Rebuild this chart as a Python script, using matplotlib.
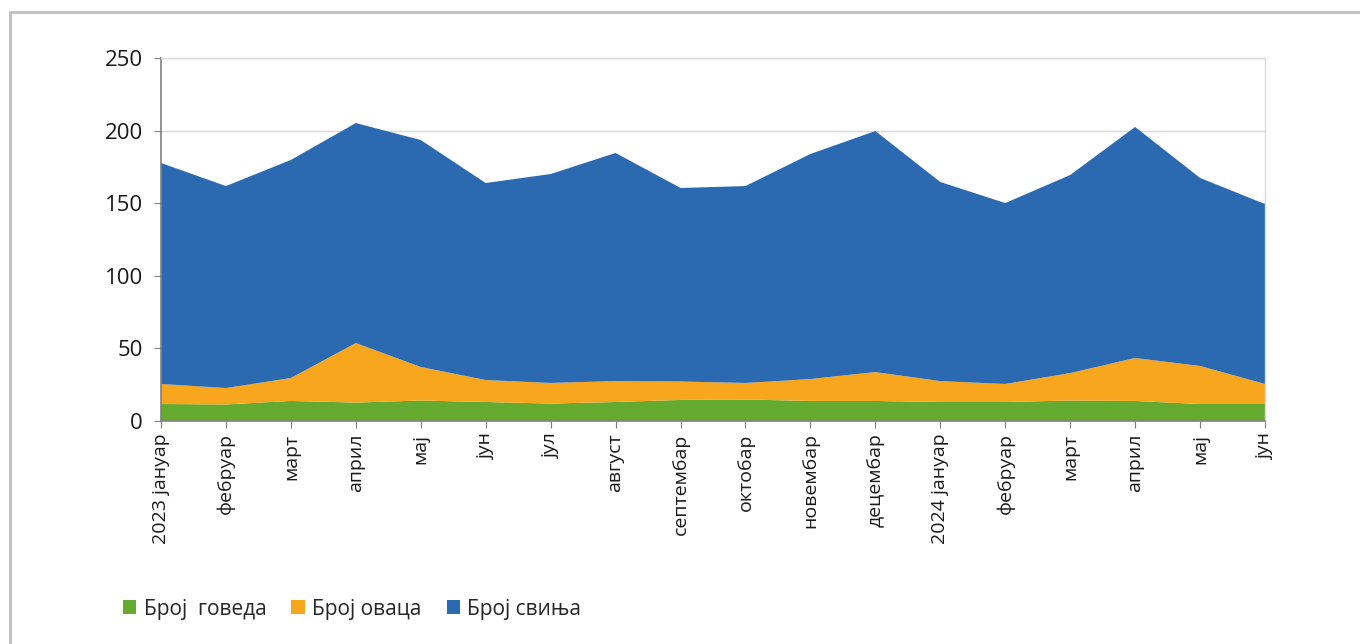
import matplotlib
matplotlib.use("Agg")
import matplotlib.pyplot as plt
from matplotlib.patches import Patch, Rectangle
import numpy as np

months = ["2023 јануар", "фебруар", "март", "април", "мај", "јун", "јул", "август",
          "септембар", "октобар", "новембар", "децембар", "2024 јануар", "фебруар",
          "март", "април", "мај", "јун"]

cattle = [11.7, 11.4, 13.8, 12.7, 14.1, 13.1, 12.0, 13.1, 14.5, 14.8, 13.8, 13.8, 13.1, 13.1, 14.1, 13.8, 11.7, 11.7]
sheep = [13.8, 11.3, 15.8, 41.0, 23.1, 15.1, 14.2, 14.4, 12.7, 11.4, 15.1, 19.9, 14.4, 12.4, 18.9, 29.6, 26.2, 13.8]
pigs = [152.2, 139.1, 150.2, 151.5, 156.3, 135.7, 143.9, 157.1, 133.3, 135.6, 155.0, 166.0, 137.1, 124.6, 136.4, 159.1, 129.5, 123.9]

series_names = ["Број  говеда", "Број оваца", "Број свиња"]
colors = ["#63AA2E", "#F7A61D", "#2B6AB0"]

plt.rcParams['font.family'] = ['Open Sans', 'DejaVu Sans']

fig = plt.figure(figsize=(13.6, 6.44), dpi=100)
ax = fig.add_axes([161/1360, 1-421/644, (1265-161)/1360, (421-58)/644])

x = np.arange(len(months))
ax.stackplot(x, cattle, sheep, pigs, colors=colors, linewidth=0)

ax.set_xlim(0, len(months)-1)
ax.set_ylim(0, 250)
ax.set_yticks([0, 50, 100, 150, 200, 250])
ax.yaxis.grid(True, color="#D9D9D9", linewidth=1)
ax.set_axisbelow(True)
ax.set_xticks(x)
ax.set_xticklabels(months, rotation=90, fontsize=14, color="#1a1a1a")
ax.tick_params(axis='y', labelsize=16, colors="#808080", labelcolor="#1a1a1a", length=5, pad=8)
ax.tick_params(axis='x', colors="#808080", labelcolor="#1a1a1a", length=5, pad=4)

for side in ["left", "bottom"]:
    ax.spines[side].set_color("#808080")
    ax.spines[side].set_linewidth(1.2)
for side in ["top", "right"]:
    ax.spines[side].set_color("#D9D9D9")
    ax.spines[side].set_linewidth(1)

handles = [Patch(facecolor=c, edgecolor='none') for c in colors]
fig.legend(handles, series_names, loc='center left', bbox_to_anchor=(104/1360, 1-609/644),
           ncol=3, frameon=False, fontsize=15, handlelength=0.65, handleheight=0.65,
           handletextpad=0.35, columnspacing=1.2, labelcolor="#262626")

fig.patches.append(Rectangle((10/1360, -0.05), 1.1, 1-12/644+0.05, transform=fig.transFigure,
                             fill=False, edgecolor="#BFBFBF", linewidth=2, zorder=0))

fig.savefig("out.png", dpi=100)
